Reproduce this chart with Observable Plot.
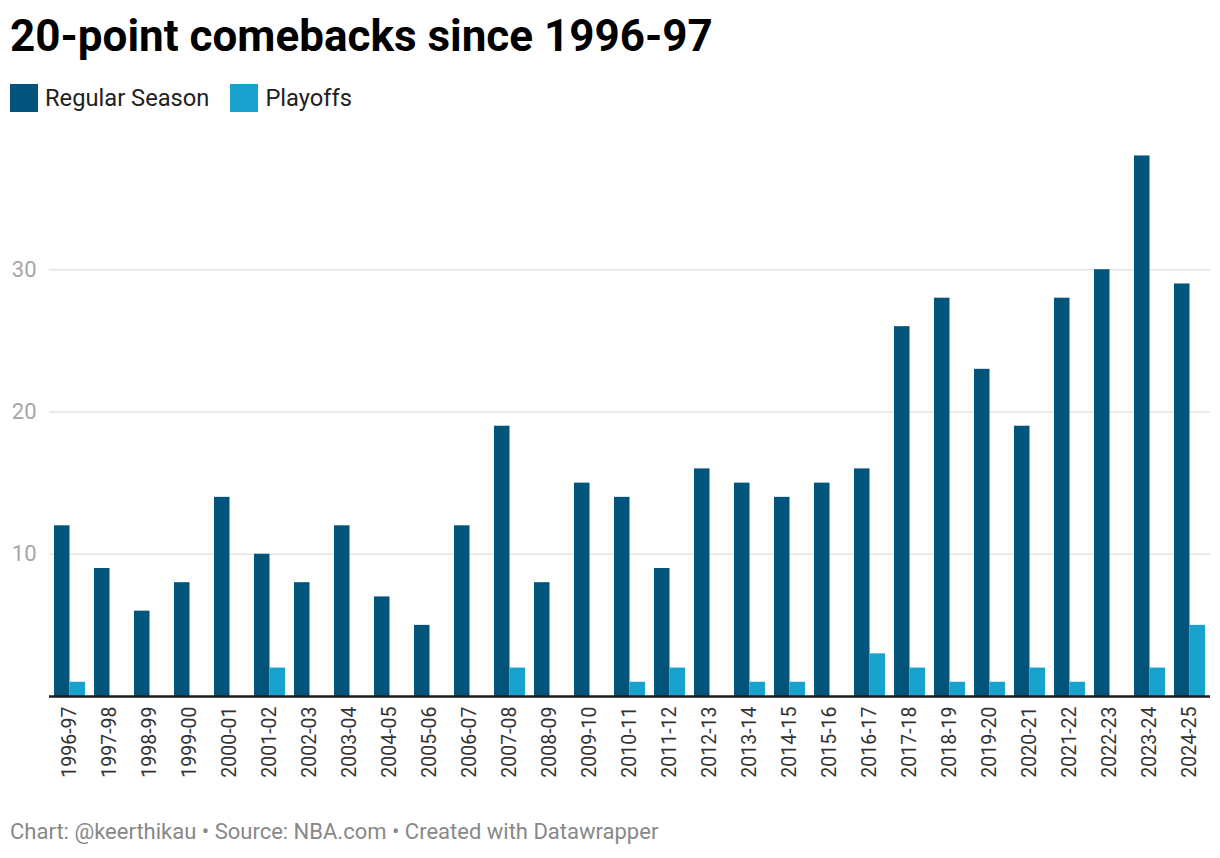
<!DOCTYPE html>
<html>
<head>
<meta charset="utf-8">
<script src="https://cdn.jsdelivr.net/npm/d3@7"></script>
<script src="https://cdn.jsdelivr.net/npm/@observablehq/plot@0.6"></script>
<style>
  body { margin: 0; background: #fff; font-family: Roboto, "Noto Sans", sans-serif; }
  #wrap { position: relative; width: 1220px; height: 858px; }
  #title { position: absolute; left: 10px; top: 11px; font-size: 44px; font-weight: 700; color: #000; line-height: 1.17; white-space: nowrap; }
  #legend { position: absolute; left: 10px; top: 84px; display: flex; align-items: center; font-size: 23.7px; color: #222; }
  .sw { width: 28px; height: 28px; display: inline-block; margin-right: 7px; }
  .item { display: flex; align-items: center; margin-right: 21px; }
  #chart { position: absolute; left: 0; top: 120px; }
  #caption { position: absolute; left: 10px; top: 819px; font-size: 22px; color: #888; white-space: nowrap; }
</style>
</head>
<body>
<div id="wrap">
  <div id="title">20-point comebacks since 1996-97</div>
  <div id="legend"></div>
  <div id="chart"></div>
  <div id="caption">Chart: @keerthikau • Source: NBA.com • Created with Datawrapper</div>
</div>
<script>
const seasons = ["1996-97","1997-98","1998-99","1999-00","2000-01","2001-02","2002-03","2003-04","2004-05","2005-06","2006-07","2007-08","2008-09","2009-10","2010-11","2011-12","2012-13","2013-14","2014-15","2015-16","2016-17","2017-18","2018-19","2019-20","2020-21","2021-22","2022-23","2023-24","2024-25"];
const regularSeason = [12,9,6,8,14,10,8,12,7,5,12,19,8,15,14,9,16,15,14,15,16,26,28,23,19,28,30,38,29];
const playoffs = [1,0,0,0,0,2,0,0,0,0,0,2,0,0,1,2,0,1,1,0,3,2,1,1,2,1,0,2,5];
const seriesNames = ["Regular Season", "Playoffs"];
const seriesColors = ["#02547b", "#1aa2cf"];
const yTicks = [10, 20, 30];

const regData = seasons.map((s, i) => ({season: s, value: regularSeason[i]}));
const poData = seasons.map((s, i) => ({season: s, value: playoffs[i]}));

// legend
const legend = document.getElementById("legend");
seriesNames.forEach((n, i) => {
  const it = document.createElement("div");
  it.className = "item";
  it.innerHTML = `<span class="sw" style="background:${seriesColors[i]}"></span><span>${n}</span>`;
  legend.appendChild(it);
});

const half = 15.5;
const chart = Plot.plot({
  width: 1220,
  height: 680,
  marginLeft: 49,
  marginRight: 10,
  marginTop: 7,
  marginBottom: 104,
  style: {fontFamily: "Roboto, sans-serif", background: "transparent"},
  x: {domain: seasons, paddingInner: 0.225, paddingOuter: 0.1},
  y: {domain: [0, 40]},
  marks: [
    Plot.ruleY(yTicks, {stroke: "#e3e3e3", strokeWidth: 1.5}),
    Plot.barY(regData, {x: "season", y: "value", fill: seriesColors[0], insetRight: half}),
    Plot.barY(poData, {x: "season", y: "value", fill: seriesColors[1], insetLeft: half}),
    Plot.ruleY([0], {stroke: "#1d1d1d", strokeWidth: 2.5}),
    Plot.axisY({ticks: yTicks, tickSize: 0, tickPadding: 13, fontSize: 22, fill: "#a6a6a6", label: null}),
    Plot.axisX({tickRotate: -90, tickSize: 0, tickPadding: 10, fontSize: 19.5, fill: "#333", label: null})
  ]
});
document.getElementById("chart").appendChild(chart);
</script>
</body>
</html>
